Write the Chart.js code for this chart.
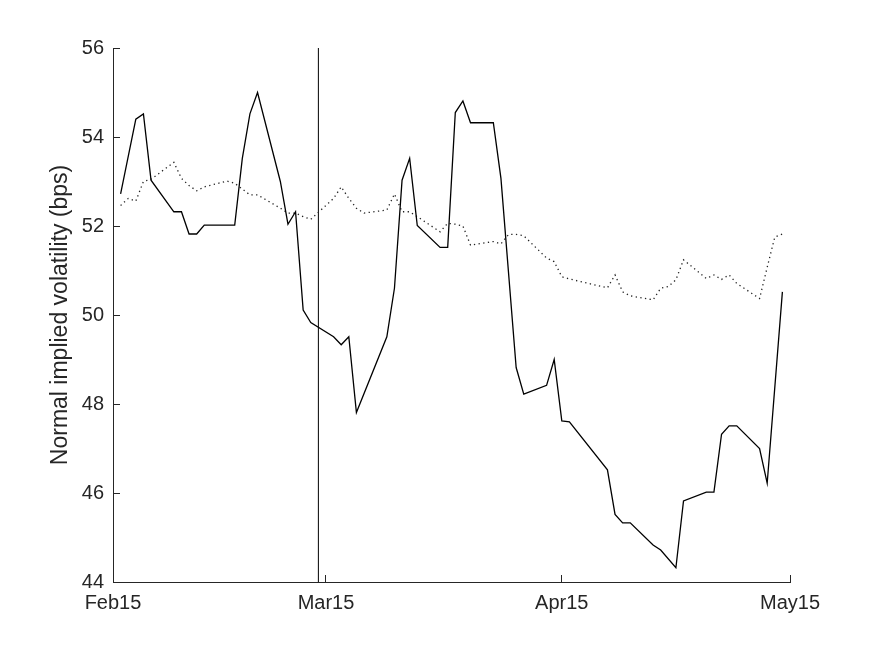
<!DOCTYPE html>
<html>
<head>
<meta charset="utf-8">
<title>Normal implied volatility</title>
<script src="https://cdn.jsdelivr.net/npm/chart.js@4/dist/chart.umd.min.js"></script>
<style>
  html, body { margin: 0; padding: 0; background: #fff; }
  canvas { display: block; }
</style>
</head>
<body>
<canvas id="volChart" width="872" height="654"></canvas>
<script>
// ---- Datos ----
const solidDates = [
  "2015-02-02", "2015-02-04", "2015-02-05", "2015-02-06", "2015-02-09", "2015-02-10",
  "2015-02-11", "2015-02-12", "2015-02-13", "2015-02-17", "2015-02-18", "2015-02-19",
  "2015-02-20", "2015-02-23", "2015-02-24", "2015-02-25", "2015-02-26", "2015-02-27",
  "2015-03-02", "2015-03-03", "2015-03-04", "2015-03-05", "2015-03-09", "2015-03-10",
  "2015-03-11", "2015-03-12", "2015-03-13", "2015-03-16", "2015-03-17", "2015-03-18",
  "2015-03-19", "2015-03-20", "2015-03-23", "2015-03-24", "2015-03-26", "2015-03-27",
  "2015-03-30", "2015-03-31", "2015-04-01", "2015-04-02", "2015-04-07", "2015-04-08",
  "2015-04-09", "2015-04-10", "2015-04-13", "2015-04-14", "2015-04-16", "2015-04-17",
  "2015-04-20", "2015-04-21", "2015-04-22", "2015-04-23", "2015-04-24", "2015-04-27",
  "2015-04-28", "2015-04-30"
];
const solidValues = [
  52.72, 54.40, 54.52, 53.03, 52.32, 52.32,
  51.82, 51.82, 52.02, 52.02, 53.52, 54.52,
  55.00, 53.00, 52.04, 52.32, 50.11, 49.83,
  49.51, 49.33, 49.51, 47.81, 49.51, 50.60,
  53.03, 53.52, 52.01, 51.52, 51.52, 54.55,
  54.81, 54.32, 54.32, 53.07, 48.82, 48.22,
  48.42, 49.00, 47.62, 47.60, 46.52, 45.52,
  45.33, 45.33, 44.83, 44.72, 44.32, 45.82,
  46.02, 46.02, 47.32, 47.51, 47.51, 47.00,
  46.22, 50.52
];

const dottedDates = [
  "2015-02-02", "2015-02-03", "2015-02-04", "2015-02-05", "2015-02-06", "2015-02-09",
  "2015-02-10", "2015-02-11", "2015-02-12", "2015-02-13", "2015-02-16", "2015-02-17",
  "2015-02-18", "2015-02-19", "2015-02-20", "2015-02-23", "2015-02-24", "2015-02-25",
  "2015-02-26", "2015-02-27", "2015-03-02", "2015-03-03", "2015-03-04", "2015-03-05",
  "2015-03-06", "2015-03-09", "2015-03-10", "2015-03-11", "2015-03-12", "2015-03-13",
  "2015-03-16", "2015-03-17", "2015-03-18", "2015-03-19", "2015-03-20", "2015-03-23",
  "2015-03-24", "2015-03-25", "2015-03-26", "2015-03-27", "2015-03-30", "2015-03-31",
  "2015-04-01", "2015-04-02", "2015-04-07", "2015-04-08", "2015-04-09", "2015-04-10",
  "2015-04-13", "2015-04-14", "2015-04-15", "2015-04-16", "2015-04-17", "2015-04-20",
  "2015-04-21", "2015-04-22", "2015-04-23", "2015-04-24", "2015-04-27", "2015-04-28",
  "2015-04-29", "2015-04-30"
];
const dottedValues = [
  52.46, 52.62, 52.56, 53.00, 53.05, 53.43,
  53.07, 52.91, 52.79, 52.88, 53.01, 52.96,
  52.83, 52.70, 52.70, 52.40, 52.29, 52.29,
  52.21, 52.15, 52.62, 52.88, 52.62, 52.40,
  52.29, 52.36, 52.72, 52.32, 52.32, 52.21,
  51.87, 52.06, 52.04, 52.00, 51.57, 51.65,
  51.60, 51.81, 51.81, 51.78, 51.28, 51.20,
  50.86, 50.81, 50.61, 50.90, 50.52, 50.43,
  50.34, 50.60, 50.64, 50.79, 51.24, 50.82,
  50.90, 50.80, 50.90, 50.71, 50.37, 51.07,
  51.75, 51.82
];

const eventDate = "2015-02-28";

const xStartDate = "2015-02-01";
const xEndDate = "2015-05-01";
const xTickDates = ["2015-02-01", "2015-03-01", "2015-04-01", "2015-05-01"];
const xTickLabels = ["Feb15", "Mar15", "Apr15", "May15"];
const yTicks = [44, 46, 48, 50, 52, 54, 56];
const yTitle = "Normal implied volatility (bps)";

// ---- Utilidades ----
const baseMs = Date.parse(xStartDate + "T00:00:00Z");
function toDay(s) {
  return (Date.parse(s + "T00:00:00Z") - baseMs) / 86400000;
}
function toPoints(dates, values) {
  return dates.map((d, i) => ({ x: toDay(d), y: values[i] }));
}

const axisColor = "#262626";
const family = "'Liberation Sans', Arial, Helvetica, sans-serif";
const tickFont = { family: family, size: 20 };
const titleFont = { family: family, size: 23 };
const xTickDays = xTickDates.map(toDay);
const yMin = yTicks[0];
const yMax = yTicks[yTicks.length - 1];

const ctx = document.getElementById("volChart").getContext("2d");
new Chart(ctx, {
  type: "line",
  data: {
    datasets: [
      {
        data: toPoints(solidDates, solidValues),
        borderColor: "#000",
        borderWidth: 1.3,
        pointRadius: 0,
        tension: 0
      },
      {
        data: toPoints(dottedDates, dottedValues),
        borderColor: "#222",
        borderWidth: 1.3,
        borderDash: [1.3, 3.4],
        pointRadius: 0,
        tension: 0
      },
      {
        data: [{ x: toDay(eventDate), y: yMin }, { x: toDay(eventDate), y: yMax }],
        borderColor: "#000",
        borderWidth: 1,
        pointRadius: 0
      }
    ]
  },
  options: {
    responsive: false,
    animation: false,
    layout: { padding: { top: 48, right: 82, bottom: 0, left: 0 } },
    plugins: { legend: { display: false }, tooltip: { enabled: false } },
    scales: {
      x: {
        type: "linear",
        min: toDay(xStartDate),
        max: toDay(xEndDate),
        afterBuildTicks: (s) => { s.ticks = xTickDays.map(v => ({ value: v })); },
        afterFit: (s) => { s.height = 72; },
        grid: { drawOnChartArea: false, tickLength: -7, color: axisColor, lineWidth: 1 },
        border: { color: axisColor, width: 1 },
        ticks: {
          autoSkip: false,
          maxRotation: 0,
          padding: 16,
          color: axisColor,
          font: tickFont,
          callback: (v) => xTickLabels[xTickDays.indexOf(v)]
        }
      },
      y: {
        min: yMin,
        max: yMax,
        afterBuildTicks: (s) => { s.ticks = yTicks.map(v => ({ value: v })); },
        afterFit: (s) => { s.width = 113; },
        grid: { drawOnChartArea: false, tickLength: -7, color: axisColor, lineWidth: 1 },
        border: { color: axisColor, width: 1 },
        ticks: { padding: 16, color: axisColor, font: tickFont },
        title: {
          display: true,
          text: yTitle,
          color: axisColor,
          font: titleFont,
          padding: { top: 47, bottom: 0 }
        }
      }
    }
  }
});
</script>
</body>
</html>
